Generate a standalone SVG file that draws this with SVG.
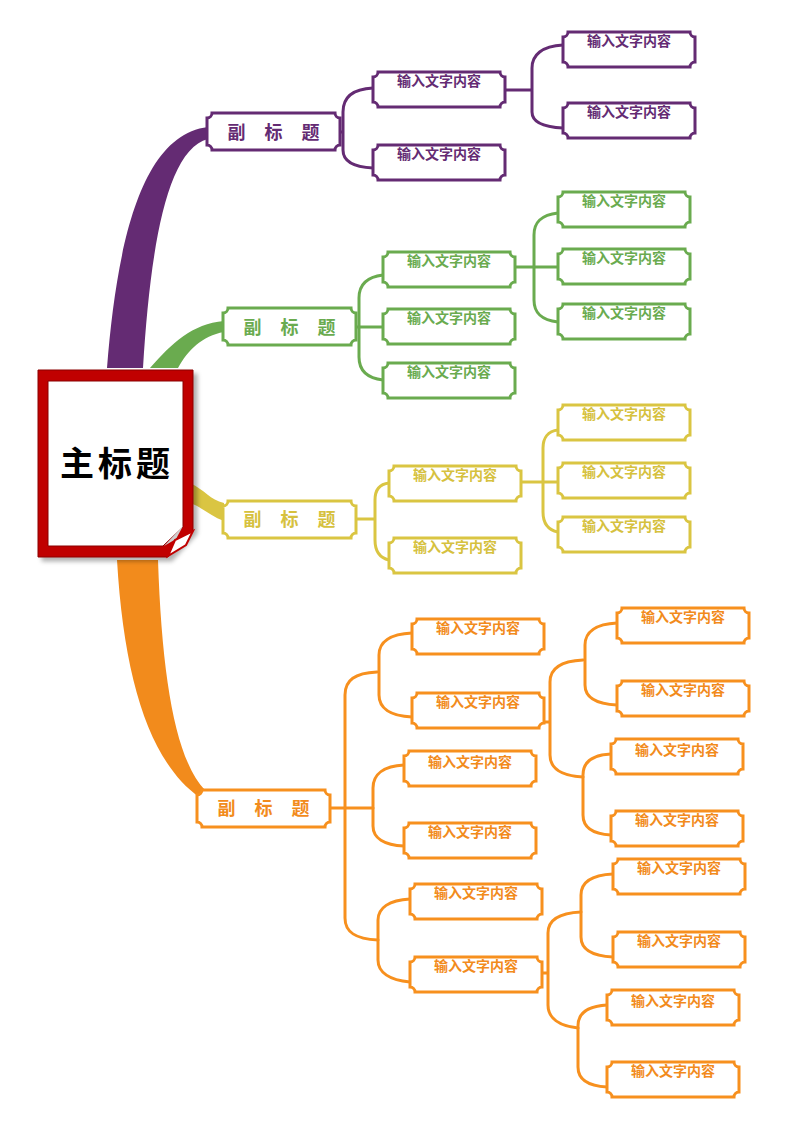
<svg xmlns="http://www.w3.org/2000/svg" width="800" height="1130" viewBox="0 0 800 1130">
<style>
.bx{fill:#fff;stroke-width:3;stroke-linejoin:miter}
.ln{fill:none;stroke-width:3;stroke-linecap:round;stroke-linejoin:round}
.p{stroke:#642b73}.pf{fill:#642b73}
.g{stroke:#6aab4f}.gf{fill:#6aab4f}
.y{stroke:#dac542}.yf{fill:#d6c13e}
.o{stroke:#f7901e}.of{fill:#f28b1c}
.t{font-family:"Liberation Sans","Noto Sans CJK SC",sans-serif;font-size:14px;font-weight:bold;text-anchor:middle}
.st{font-size:18px;letter-spacing:7px}
.mt{font-family:"Liberation Sans","Noto Sans CJK SC",sans-serif;font-size:34px;font-weight:bold;letter-spacing:4px;text-anchor:middle;fill:#000}
</style>
<defs>
<path id="cb" d="M5,0 H127 A5,5 0 0 0 132,5 V30 A5,5 0 0 0 127,35 H5 A5,5 0 0 0 0,30 V5 A5,5 0 0 0 5,0 Z"/>
<path id="sb" d="M5,0 H128 A5,5 0 0 0 133,5 V32 A5,5 0 0 0 128,37 H5 A5,5 0 0 0 0,32 V5 A5,5 0 0 0 5,0 Z"/>
<filter id="sh" x="-10%" y="-10%" width="130%" height="130%">
<feDropShadow dx="4" dy="4" stdDeviation="2" flood-color="#000" flood-opacity="0.3"/>
</filter>
</defs>

<g id="connectors">
<!-- main branches -->
<path class="pf" d="M107,368 C116,255 138,135 208,127 L208,139 C165,150 150,255 143,368 Z"/>
<path class="gf" d="M150,368 C172,343 192,324 224,321 L224,332 C202,336 188,350 178,368 Z"/>
<path fill="#dac542" d="M190,483 C205,490 210,500 224,503 L224,521 C210,516 200,506 190,503 Z"/>
<path class="of" d="M117,560 C124,680 150,762 199,797 L205,790 C176,760 162,680 158,560 Z"/>
<!-- purple -->
<path class="ln p" d="M338,132 H343 M373,88 C352,89 343,98 343,112 V150 C343,161 352,167 373,168"/>
<path class="ln p" d="M505,90 H532 M563,45 C542,46 532,55 532,68 V112 C532,122 542,127 563,128"/>
<!-- green -->
<path class="ln g" d="M356,327 H383 M383,275 C366,277 359,285 359,298 V357 C359,370 366,378 383,380"/>
<path class="ln g" d="M515,267 H558 M558,213 C541,215 534,222 534,235 V300 C534,313 541,320 558,322"/>
<!-- yellow -->
<path class="ln y" d="M355,519 H375 M389,483 C380,484 375,490 375,500 V540 C375,552 380,558 389,560"/>
<path class="ln y" d="M522,482 H558 M558,430 C548,431 543,438 543,448 V512 C543,524 548,530 558,532"/>
<!-- orange -->
<path class="ln o" d="M330,808 H373 M377,672 C355,673 345,680 345,695 V918 C345,932 355,939 378,940"/>
<path class="ln o" d="M412,633 C390,634 379,642 379,655 V695 C379,708 390,716 412,717"/>
<path class="ln o" d="M404,765 C384,766 373,774 373,788 V826 C373,838 384,845 404,846"/>
<path class="ln o" d="M410,899 C389,900 378,908 378,920 V960 C378,972 389,980 410,982"/>
<path class="ln o" d="M543,722 H550 M583,660 C561,661 550,668 550,682 V755 C550,768 561,776 583,777"/>
<path class="ln o" d="M617,623 C596,624 585,632 585,645 V685 C585,697 596,704 617,705"/>
<path class="ln o" d="M611,754 C592,755 583,762 583,775 V815 C583,827 592,834 611,835"/>
<path class="ln o" d="M542,973 H548 M581,912 C559,913 548,920 548,933 V1005 C548,1018 559,1026 578,1028"/>
<path class="ln o" d="M613,874 C592,875 581,882 581,895 V937 C581,949 592,956 613,957"/>
<path class="ln o" d="M607,1005 C588,1006 578,1013 578,1026 V1067 C578,1079 588,1086 607,1087"/>
</g>

<g id="main">
<polygon points="38,370 193,370 193,530 168,557 38,557" fill="#c00000" stroke="#8a0000" stroke-width="1" filter="url(#sh)"/>
<polygon points="48,381 183,381 183,527 163,546 48,546" fill="#fff" stroke="#8a0000" stroke-width="1"/>
<polygon points="183,526 176,539 164,546" fill="#cfcfcf"/>
<polygon points="168,556 175,540 193,531 186,545" fill="#fff" stroke="#c00000" stroke-width="2"/>
<text class="mt" x="117" y="476">主标题</text>
</g>

<!-- purple -->
<g id="p-sub"><use href="#sb" x="207" y="113" class="bx p"/><text class="t st pf" x="277" y="139">副 标 题</text></g>
<g id="p-1"><use href="#cb" x="373" y="72" class="bx p"/><text class="t pf" x="439" y="86">输入文字内容</text></g>
<g id="p-2"><use href="#cb" x="373" y="145" class="bx p"/><text class="t pf" x="439" y="159">输入文字内容</text></g>
<g id="p-1-1"><use href="#cb" x="563" y="32" class="bx p"/><text class="t pf" x="629" y="46">输入文字内容</text></g>
<g id="p-1-2"><use href="#cb" x="563" y="103" class="bx p"/><text class="t pf" x="629" y="117">输入文字内容</text></g>

<!-- green -->
<g id="g-sub"><use href="#sb" x="223" y="308" class="bx g"/><text class="t st gf" x="293" y="334">副 标 题</text></g>
<g id="g-1"><use href="#cb" x="383" y="252" class="bx g"/><text class="t gf" x="449" y="266">输入文字内容</text></g>
<g id="g-2"><use href="#cb" x="383" y="309" class="bx g"/><text class="t gf" x="449" y="323">输入文字内容</text></g>
<g id="g-3"><use href="#cb" x="383" y="363" class="bx g"/><text class="t gf" x="449" y="377">输入文字内容</text></g>
<g id="g-1-1"><use href="#cb" x="558" y="192" class="bx g"/><text class="t gf" x="624" y="206">输入文字内容</text></g>
<g id="g-1-2"><use href="#cb" x="558" y="249" class="bx g"/><text class="t gf" x="624" y="263">输入文字内容</text></g>
<g id="g-1-3"><use href="#cb" x="558" y="304" class="bx g"/><text class="t gf" x="624" y="318">输入文字内容</text></g>

<!-- yellow -->
<g id="y-sub"><use href="#sb" x="223" y="501" class="bx y"/><text class="t st yf" x="293" y="526">副 标 题</text></g>
<g id="y-1"><use href="#cb" x="389" y="466" class="bx y"/><text class="t yf" x="455" y="480">输入文字内容</text></g>
<g id="y-2"><use href="#cb" x="389" y="538" class="bx y"/><text class="t yf" x="455" y="552">输入文字内容</text></g>
<g id="y-1-1"><use href="#cb" x="558" y="405" class="bx y"/><text class="t yf" x="624" y="419">输入文字内容</text></g>
<g id="y-1-2"><use href="#cb" x="558" y="463" class="bx y"/><text class="t yf" x="624" y="477">输入文字内容</text></g>
<g id="y-1-3"><use href="#cb" x="558" y="517" class="bx y"/><text class="t yf" x="624" y="531">输入文字内容</text></g>

<!-- orange -->
<g id="o-sub"><use href="#sb" x="197" y="790" class="bx o"/><text class="t st of" x="267" y="815">副 标 题</text></g>
<g id="o-1"><use href="#cb" x="412" y="619" class="bx o"/><text class="t of" x="478" y="633">输入文字内容</text></g>
<g id="o-2"><use href="#cb" x="412" y="693" class="bx o"/><text class="t of" x="478" y="707">输入文字内容</text></g>
<g id="o-3"><use href="#cb" x="404" y="751" class="bx o"/><text class="t of" x="470" y="767">输入文字内容</text></g>
<g id="o-4"><use href="#cb" x="404" y="823" class="bx o"/><text class="t of" x="470" y="837">输入文字内容</text></g>
<g id="o-5"><use href="#cb" x="410" y="884" class="bx o"/><text class="t of" x="476" y="898">输入文字内容</text></g>
<g id="o-6"><use href="#cb" x="410" y="957" class="bx o"/><text class="t of" x="476" y="971">输入文字内容</text></g>
<g id="o-2-1"><use href="#cb" x="617" y="608" class="bx o"/><text class="t of" x="683" y="622">输入文字内容</text></g>
<g id="o-2-2"><use href="#cb" x="617" y="681" class="bx o"/><text class="t of" x="683" y="695">输入文字内容</text></g>
<g id="o-2-3"><use href="#cb" x="611" y="739" class="bx o"/><text class="t of" x="677" y="755">输入文字内容</text></g>
<g id="o-2-4"><use href="#cb" x="611" y="811" class="bx o"/><text class="t of" x="677" y="825">输入文字内容</text></g>
<g id="o-6-1"><use href="#cb" x="613" y="859" class="bx o"/><text class="t of" x="679" y="873">输入文字内容</text></g>
<g id="o-6-2"><use href="#cb" x="613" y="932" class="bx o"/><text class="t of" x="679" y="946">输入文字内容</text></g>
<g id="o-6-3"><use href="#cb" x="607" y="990" class="bx o"/><text class="t of" x="673" y="1006">输入文字内容</text></g>
<g id="o-6-4"><use href="#cb" x="607" y="1062" class="bx o"/><text class="t of" x="673" y="1076">输入文字内容</text></g>
</svg>
